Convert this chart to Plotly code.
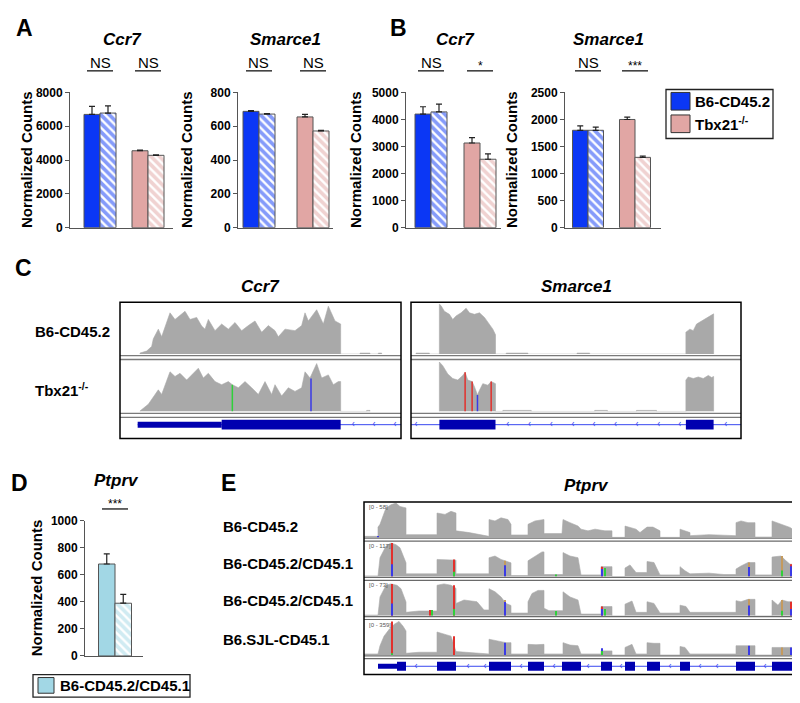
"""
Ccr7 / Smarce1 / Ptprv normalized counts with IGV-style coverage tracks.
"""

import plotly.graph_objects as go

W, H = 800, 703
FONT = "Liberation Sans, Arial, Helvetica, sans-serif"

BLUE = "#0b37f5"
PINK = "#e1a6a4"
LIGHT_BLUE = "#a2d7e5"
GREY = "#a9a9a9"
AXIS = "#555555"
GENE_NAVY = "#0000b0"
INTRON_BLUE = "#3848f0"
MM_COLOURS = {"r": "#e2302c", "b": "#3a3ae6", "g": "#2fd03a", "t": "#c49a5e"}

# ---- bar panels: values are [B6-CD45.2 group, Tbx21-/- group] ----
GROUPS = ["B6-CD45.2", "Tbx21-/-"]

A_CCR7_SOLID = [6700, 4550]
A_CCR7_SOLID_ERR = [480, 40]
A_CCR7_HATCHED = [6780, 4280]
A_CCR7_HATCHED_ERR = [420, 30]
A_CCR7_TICKS = [0, 2000, 4000, 6000, 8000]
A_CCR7_SIG = ["NS", "NS"]

A_SMARCE1_SOLID = [688, 655]
A_SMARCE1_SOLID_ERR = [5, 15]
A_SMARCE1_HATCHED = [672, 572]
A_SMARCE1_HATCHED_ERR = [3, 3]
A_SMARCE1_TICKS = [0, 200, 400, 600, 800]
A_SMARCE1_SIG = ["NS", "NS"]

B_CCR7_SOLID = [4200, 3130]
B_CCR7_SOLID_ERR = [270, 200]
B_CCR7_HATCHED = [4280, 2530]
B_CCR7_HATCHED_ERR = [290, 200]
B_CCR7_TICKS = [0, 1000, 2000, 3000, 4000, 5000]
B_CCR7_SIG = ["NS", "*"]

B_SMARCE1_SOLID = [1800, 2000]
B_SMARCE1_SOLID_ERR = [80, 45]
B_SMARCE1_HATCHED = [1800, 1300]
B_SMARCE1_HATCHED_ERR = [60, 25]
B_SMARCE1_TICKS = [0, 500, 1000, 1500, 2000, 2500]
B_SMARCE1_SIG = ["NS", "***"]

D_PTPRV_SOLID = [680]
D_PTPRV_SOLID_ERR = [75]
D_PTPRV_HATCHED = [390]
D_PTPRV_HATCHED_ERR = [65]
D_PTPRV_TICKS = [0, 200, 400, 600, 800, 1000]
D_PTPRV_SIG = ["***"]

# ---- panel C coverage (position along locus, coverage in % of track scale) ----
CCR7_B6_POS = [60, 60, 80, 95, 100, 115, 125, 140, 150, 165, 180, 195, 210, 230, 245, 255, 265, 285, 305, 325,
               345, 365, 385, 405, 425, 445, 465, 475, 495, 525, 545, 555, 565, 590, 610, 625, 645, 662, 662,
               720, 720, 750, 750, 775, 775, 785, 785]
CCR7_B6_COV = [0, 2, 6, 15, 30, 49, 34, 60, 81, 68, 76, 84, 68, 72, 55, 49, 68, 46, 59, 49,
               62, 46, 56, 65, 43, 56, 46, 34, 49, 46, 56, 81, 65, 87, 59, 94, 65, 59, 0,
               0, 2, 2, 0, 0, 2, 2, 0]
CCR7_TBX_POS = [60, 60, 85, 115, 125, 150, 165, 180, 200, 215, 235, 250, 265, 285, 305, 325, 337, 355, 375, 395,
                415, 435, 455, 465, 485, 505, 525, 545, 555, 570, 590, 605, 625, 640, 655, 662, 662,
                740, 740, 750, 750]
CCR7_TBX_COV = [0, 1, 14, 42, 33, 77, 68, 74, 61, 71, 84, 65, 74, 58, 52, 58, 52, 46, 58, 46,
                33, 58, 33, 52, 30, 46, 39, 46, 77, 65, 93, 65, 71, 52, 58, 58, 0,
                0, 2, 2, 0]
CCR7_TBX_MISMATCH = [(337, 52, "g", 0, None), (573, 64, "b", 0, None)]

SMARCE1_B6_POS = [15, 15, 55, 55, 85, 85, 90, 100, 115, 125, 135, 150, 165, 175, 190, 205, 220, 235, 245, 253, 253,
                  285, 285, 350, 350, 497, 497, 535, 535,
                  823, 823, 835, 845, 855, 870, 885, 895, 906, 906]
SMARCE1_B6_COV = [0, 2, 2, 0, 0, 98, 95, 84, 78, 68, 75, 81, 90, 81, 78, 81, 72, 59, 49, 38, 0,
                  0, 2, 2, 0, 0, 2, 2, 0,
                  0, 43, 49, 46, 59, 65, 72, 75, 79, 0]
SMARCE1_TBX_POS = [85, 85, 95, 110, 125, 140, 155, 162, 170, 183, 190, 199, 205, 215, 230, 240, 253, 253,
                   275, 275, 360, 360, 550, 550, 588, 588, 675, 675, 735, 735,
                   823, 823, 830, 845, 860, 875, 890, 900, 906, 906]
SMARCE1_TBX_COV = [0, 96, 89, 73, 64, 61, 70, 76, 61, 58, 48, 32, 41, 54, 51, 58, 54, 0,
                   0, 2, 2, 0, 0, 2, 2, 0, 0, 2, 2, 0,
                   0, 61, 67, 64, 67, 64, 70, 66, 68, 0]
SMARCE1_TBX_MISMATCH = [(162, 76, "r", 0, None), (183, 58, "r", 0, None),
                        (199, 32, "b", 0, None), (240, 58, "r", 0, None)]

CCR7_UTR = [(53, 305)]
CCR7_EXONS = [(305, 662)]
CCR7_LINE = (53, 843)
CCR7_ARROWS = [700, 762, 825]
CCR7_EXON_ARROWS = [370, 435, 498, 562]

SMARCE1_UTR = []
SMARCE1_EXONS = [(85, 253), (823, 906)]
SMARCE1_LINE = (0, 988)
SMARCE1_ARROWS = [15, 290, 355, 420, 485, 548, 612, 677, 742, 805, 942]
SMARCE1_EXON_ARROWS = [150, 218, 893]

# ---- panel E coverage ----
PTPRV_SAMPLES = ["B6-CD45.2", "B6-CD45.2/CD45.1", "B6-CD45.2/CD45.1", "B6.SJL-CD45.1"]
PTPRV_SCALES = ["[0 - 58]", "[0 - 117]", "[0 - 73]", "[0 - 359]"]

PTPRV_T1_POS = [0, 14, 14, 16, 22, 27, 32, 36, 42, 42, 60, 73, 73, 81, 87, 92, 92, 105, 125, 125,
                131, 137, 144, 147, 147, 164, 164, 171, 180, 180, 198, 199, 206, 214, 217, 224, 231, 241, 248, 248,
                261, 261, 272, 276, 283, 289, 296, 296, 316, 316, 326, 326, 345, 365, 372, 372, 377, 384, 391, 391,
                408, 408, 417, 426, 431, 431]
PTPRV_T1_COV = [3, 3, 30, 38, 86, 95, 100, 90, 86, 8, 8, 8, 71, 67, 76, 71, 19, 14, 3, 52,
                48, 57, 52, 38, 7, 7, 38, 48, 52, 11, 11, 52, 43, 33, 24, 19, 24, 19, 19, 0,
                0, 33, 24, 14, 30, 30, 19, 0, 0, 24, 14, 5, 8, 5, 5, 43, 48, 43, 43, 1,
                1, 48, 38, 29, 19, 0]
PTPRV_T2_POS = [0, 14, 16, 22, 27, 32, 36, 40, 42, 42, 73, 73, 81, 87, 92, 92, 125, 125, 131, 137,
                141, 147, 147, 164, 164, 171, 178, 180, 180, 199, 199, 206, 214, 217, 237, 237, 248, 248, 261, 261,
                266, 272, 283, 283, 290, 296, 316, 316, 321, 326, 345, 360, 372, 372, 377, 384, 391, 391, 408, 408,
                417, 422, 426, 431, 431]
PTPRV_T2_COV = [2, 2, 55, 89, 98, 93, 84, 55, 40, 8, 8, 50, 50, 48, 48, 8, 8, 55, 60, 50,
                46, 40, 3, 3, 46, 60, 72, 72, 6, 6, 70, 60, 55, 5, 5, 29, 29, 0, 0, 25,
                34, 12, 12, 44, 41, 5, 5, 29, 17, 8, 10, 6, 6, 22, 31, 41, 41, 5, 5, 57,
                60, 46, 36, 36, 0]
PTPRV_T3_POS = [0, 14, 16, 22, 27, 33, 37, 40, 42, 42, 55, 73, 73, 80, 87, 92, 92, 100, 113, 120,
                125, 125, 131, 137, 142, 147, 147, 164, 164, 168, 174, 180, 180, 185, 199, 199, 206, 214, 217, 237,
                237, 248, 248, 261, 261, 268, 272, 283, 283, 290, 296, 316, 316, 322, 326, 372, 372, 377, 384, 391,
                391, 408, 408, 414, 418, 424, 431, 431]
PTPRV_T3_COV = [2, 2, 55, 89, 93, 89, 79, 55, 40, 10, 14, 14, 89, 93, 89, 80, 36, 46, 41, 17,
                17, 79, 70, 55, 36, 30, 8, 8, 41, 65, 74, 74, 22, 15, 15, 70, 55, 46, 5, 5,
                27, 27, 0, 0, 34, 43, 10, 10, 41, 36, 8, 8, 31, 27, 10, 10, 44, 41, 48, 48,
                0, 0, 46, 31, 46, 41, 41, 0]
PTPRV_T4_POS = [0, 14, 16, 20, 25, 30, 35, 39, 42, 42, 55, 73, 73, 81, 87, 92, 92, 125, 125, 135,
                142, 147, 147, 164, 164, 172, 180, 180, 199, 199, 206, 214, 217, 237, 237, 248, 248, 261, 261, 268,
                272, 283, 283, 290, 296, 296, 316, 316, 321, 326, 372, 372, 391, 391, 408, 408, 431, 431]
PTPRV_T4_COV = [3, 3, 27, 55, 74, 89, 98, 84, 70, 5, 8, 8, 67, 60, 55, 10, 10, 3, 46, 41,
                36, 36, 3, 3, 31, 30, 31, 3, 3, 36, 29, 27, 3, 3, 12, 12, 0, 0, 22, 31,
                3, 3, 36, 34, 34, 0, 0, 25, 22, 3, 3, 27, 27, 0, 0, 22, 22, 0]

# (position, height, colour, lower height, lower colour)
PTPRV_T1_MISMATCH = [(14, 4, "b", 0, None)]
PTPRV_T2_MISMATCH = [(28, 98, "r", 36, "b"), (90, 50, "r", 14, "g"), (141, 46, "t", 33, "b"),
                     (192, 6, "g", 0, None), (238, 29, "r", 22, "b"), (241, 25, "g", 0, None),
                     (385, 41, "t", 28, "b"), (418, 60, "t", 18, "g"), (427, 36, "r", 30, "b")]
PTPRV_T3_MISMATCH = [(28, 93, "r", 36, "b"), (66, 17, "r", 0, None), (68, 17, "g", 0, None),
                     (90, 89, "r", 20, "g"), (141, 46, "t", 40, "b"), (192, 14, "g", 0, None),
                     (238, 27, "r", 20, "b"), (241, 20, "g", 0, None), (385, 48, "t", 30, "b"),
                     (418, 46, "t", 15, "g"), (427, 41, "r", 20, "b")]
PTPRV_T4_MISMATCH = [(28, 98, "r", 5, "g"), (90, 55, "r", 0, None), (141, 36, "b", 0, None),
                     (238, 20, "b", 12, "g"), (385, 27, "b", 0, None), (418, 22, "t", 0, None),
                     (427, 22, "b", 0, None)]

PTPRV_UTR = [(14, 33)]
PTPRV_EXONS = [(33, 42), (73, 92), (125, 147), (164, 180), (198, 217), (237, 248),
               (261, 271), (283, 296), (316, 326), (372, 391), (408, 431)]
PTPRV_LINE = (14, 439)
PTPRV_ARROWS = [52, 104, 121, 157, 190, 224, 257, 306, 336, 353, 401]
PTPRV_EXON_ARROWS = [144, 427]


fig = go.Figure()
axes = {}
shapes = []
annotations = []
n_axes = [0]


def fx(x):
    return x / W


def fy(y):
    return 1 - y / H


def add_axes(left, right, top, bottom, xrange, yrange):
    n_axes[0] += 1
    s = "" if n_axes[0] == 1 else str(n_axes[0])
    axes["xaxis" + s] = dict(domain=[fx(left), fx(right)], range=xrange, anchor="y" + s,
                             visible=False, fixedrange=True)
    axes["yaxis" + s] = dict(domain=[fy(bottom), fy(top)], range=yrange, anchor="x" + s,
                             visible=False, fixedrange=True)
    return "x" + s, "y" + s, s


def text(x, y, label, size=15, bold=True, italic=False, anchor="center", angle=0, colour="black"):
    annotations.append(dict(
        x=fx(x), y=fy(y), xref="paper", yref="paper", text=label, showarrow=False,
        xanchor=anchor, yanchor="middle", textangle=angle,
        font=dict(family=FONT, size=size, color=colour, weight="bold" if bold else "normal",
                  style="italic" if italic else "normal"),
    ))


def hline(x0, x1, y, colour="black", width=1.2):
    shapes.append(dict(type="line", xref="paper", yref="paper", x0=fx(x0), x1=fx(x1),
                       y0=fy(y), y1=fy(y), line=dict(color=colour, width=width)))


def box(x0, x1, y0, y1, colour="black", width=1.5, fill=None):
    shapes.append(dict(type="rect", xref="paper", yref="paper", x0=fx(x0), x1=fx(x1),
                       y0=fy(y1), y1=fy(y0), line=dict(color=colour, width=width),
                       fillcolor=fill if fill else "rgba(0,0,0,0)"))


def bar_panel(geo, solid, solid_err, hatched, hatched_err, colours, ticks, title, sig):
    centres = geo["centres"]
    unit = centres[1] - centres[0] if len(centres) > 1 else 48
    c0 = centres[0]
    xr = [(geo["left"] - c0) / unit, (geo["right"] - c0) / unit]
    w = geo["bar"] / unit
    xa, ya, s = add_axes(geo["left"], geo["right"], geo["top"], geo["bottom"], xr, [0, ticks[-1]])
    axes["xaxis" + s].update(visible=True, showline=True, linecolor=AXIS, linewidth=1,
                             showticklabels=False, ticks="", showgrid=False, zeroline=False)
    axes["yaxis" + s].update(visible=True, showline=True, linecolor=AXIS, linewidth=1,
                             tickvals=ticks, ticks="outside", ticklen=4, tickcolor=AXIS,
                             showgrid=False, zeroline=False,
                             tickfont=dict(family=FONT, size=12, color="black", weight="bold"))
    xs = list(range(len(solid)))
    err_style = dict(type="data", symmetric=False, color="#222222", thickness=1.2, width=3)
    fig.add_trace(go.Bar(
        x=xs, y=solid, width=w, offset=-w, xaxis=xa, yaxis=ya,
        marker=dict(color=colours, line=dict(color=AXIS, width=1)),
        error_y=dict(array=solid_err, arrayminus=[0] * len(xs), **err_style),
    ))
    fig.add_trace(go.Bar(
        x=xs, y=hatched, width=w, offset=0, xaxis=xa, yaxis=ya,
        marker=dict(color="white", line=dict(color=AXIS, width=1),
                    pattern=dict(shape="\\", fgcolor=colours, bgcolor="white", size=6, solidity=0.62)),
        error_y=dict(array=hatched_err, arrayminus=[0] * len(xs), **err_style),
    ))
    # title, y label, significance marks
    text(geo["title_x"], geo["title_y"], title, size=17, italic=True)
    text(geo["ylabel_x"], (geo["top"] + geo["bottom"]) / 2, "Normalized Counts", size=15, angle=-90)
    for i, mark in enumerate(sig):
        shapes.append(dict(type="line", xref=xa, yref="paper", x0=i - 13 / unit, x1=i + 13 / unit,
                           y0=fy(geo["sig_y"] + 9), y1=fy(geo["sig_y"] + 9),
                           line=dict(color="black", width=1.2)))
        shift = 4 if "*" in mark else 0
        annotations.append(dict(x=i, y=fy(geo["sig_y"] + shift), xref=xa, yref="paper", text=mark,
                                showarrow=False, xanchor="center", yanchor="middle",
                                font=dict(family=FONT, size=15 if "*" not in mark else 12, color="black")))


def coverage(xa, ya, pos, cov):
    fig.add_trace(go.Scatter(x=pos, y=cov, xaxis=xa, yaxis=ya, mode="lines", fill="tozeroy",
                             line=dict(color=GREY, width=0.6), fillcolor=GREY, hoverinfo="skip"))


def mismatches(xa, ya, items, width):
    layers = [[(p, h, c) for p, h, c, _, _ in items],
              [(p, lh, lc) for p, _, _, lh, lc in items if lc]]
    for layer in layers:
        for key in MM_COLOURS:
            xs, ys = [], []
            for p, h, c in layer:
                if c == key:
                    xs += [p, p, None]
                    ys += [0, h, None]
            if xs:
                fig.add_trace(go.Scatter(x=xs, y=ys, xaxis=xa, yaxis=ya, mode="lines",
                                         line=dict(color=MM_COLOURS[key], width=width), hoverinfo="skip"))


def gene(xa, ya, line, utr, exons, arrows, exon_arrows, thick, thin):
    fig.add_trace(go.Scatter(x=list(line), y=[0, 0], xaxis=xa, yaxis=ya, mode="lines",
                             line=dict(color=INTRON_BLUE, width=1), hoverinfo="skip"))
    for a, b in utr:
        shapes.append(dict(type="rect", xref=xa, yref=ya, x0=a, x1=b, y0=-thin, y1=thin,
                           fillcolor=GENE_NAVY, line=dict(width=0)))
    for a, b in exons:
        shapes.append(dict(type="rect", xref=xa, yref=ya, x0=a, x1=b, y0=-thick, y1=thick,
                           fillcolor=GENE_NAVY, line=dict(width=0)))
    fig.add_trace(go.Scatter(x=arrows, y=[0] * len(arrows), xaxis=xa, yaxis=ya, mode="text",
                             text=["‹"] * len(arrows), textfont=dict(color=INTRON_BLUE, size=10),
                             hoverinfo="skip"))
    fig.add_trace(go.Scatter(x=exon_arrows, y=[0] * len(exon_arrows), xaxis=xa, yaxis=ya, mode="text",
                             text=["‹"] * len(exon_arrows), textfont=dict(color="white", size=10),
                             hoverinfo="skip"))


# ---------------- panels A and B ----------------
A_B_COLOURS = [BLUE, PINK]
bar_panel(dict(left=62, right=165, top=79, bottom=217, centres=[92, 140], bar=16,
               title_x=115, title_y=25, ylabel_x=18, sig_y=48),
          A_CCR7_SOLID, A_CCR7_SOLID_ERR, A_CCR7_HATCHED, A_CCR7_HATCHED_ERR,
          A_B_COLOURS, A_CCR7_TICKS, "Ccr7", A_CCR7_SIG)
bar_panel(dict(left=230, right=325, top=79, bottom=217, centres=[251, 305], bar=16,
               title_x=277, title_y=25, ylabel_x=178, sig_y=48),
          A_SMARCE1_SOLID, A_SMARCE1_SOLID_ERR, A_SMARCE1_HATCHED, A_SMARCE1_HATCHED_ERR,
          A_B_COLOURS, A_SMARCE1_TICKS, "Smarce1", A_SMARCE1_SIG)
bar_panel(dict(left=398, right=493, top=79, bottom=217, centres=[423, 472], bar=16,
               title_x=447, title_y=25, ylabel_x=347, sig_y=48),
          B_CCR7_SOLID, B_CCR7_SOLID_ERR, B_CCR7_HATCHED, B_CCR7_HATCHED_ERR,
          A_B_COLOURS, B_CCR7_TICKS, "Ccr7", B_CCR7_SIG)
bar_panel(dict(left=557, right=653, top=79, bottom=217, centres=[580, 627], bar=15.5,
               title_x=600, title_y=25, ylabel_x=503, sig_y=48),
          B_SMARCE1_SOLID, B_SMARCE1_SOLID_ERR, B_SMARCE1_HATCHED, B_SMARCE1_HATCHED_ERR,
          A_B_COLOURS, B_SMARCE1_TICKS, "Smarce1", B_SMARCE1_SIG)
bar_panel(dict(left=77, right=135, top=516, bottom=654, centres=[107], bar=16.5,
               title_x=108, title_y=475, ylabel_x=28, sig_y=495),
          D_PTPRV_SOLID, D_PTPRV_SOLID_ERR, D_PTPRV_HATCHED, D_PTPRV_HATCHED_ERR,
          [LIGHT_BLUE], D_PTPRV_TICKS, "Ptprv", D_PTPRV_SIG)

# legends
box(658, 765, 76, 126, colour="#222222", width=1.3)
box(663, 682, 79, 97, colour="#333333", width=1, fill=BLUE)
box(663, 682, 102, 120, colour="#333333", width=1, fill=PINK)
text(685, 88, GROUPS[0], anchor="left")
text(685, 111, "Tbx21<sup>-/-</sup>", anchor="left")

box(25, 182, 673, 696, colour="#222222", width=1.3)
box(30, 46, 676, 692, colour="#333333", width=1, fill=LIGHT_BLUE)
text(50, 684, "B6-CD45.2/CD45.1", anchor="left")

# panel letters
text(16, 13, "A", size=23)
text(390, 13, "B", size=23)
text(15, 258, "C", size=23)
text(11, 477, "D", size=23)
text(220, 478, "E", size=23)

# ---------------- panel C ----------------
C_TRACK_ROWS = [(294, 346), (352, 404.5)]
for left, right, span, title, tracks, gene_parts in [
    (112, 393, 843, "Ccr7",
     [(CCR7_B6_POS, CCR7_B6_COV, []), (CCR7_TBX_POS, CCR7_TBX_COV, CCR7_TBX_MISMATCH)],
     (CCR7_LINE, CCR7_UTR, CCR7_EXONS, CCR7_ARROWS, CCR7_EXON_ARROWS)),
    (403, 733, 988, "Smarce1",
     [(SMARCE1_B6_POS, SMARCE1_B6_COV, []), (SMARCE1_TBX_POS, SMARCE1_TBX_COV, SMARCE1_TBX_MISMATCH)],
     (SMARCE1_LINE, SMARCE1_UTR, SMARCE1_EXONS, SMARCE1_ARROWS, SMARCE1_EXON_ARROWS)),
]:
    for (top, bottom), (pos, cov, mm) in zip(C_TRACK_ROWS, tracks):
        xa, ya, _ = add_axes(left, right, top, bottom, [0, span], [0, 100])
        coverage(xa, ya, pos, cov)
        mismatches(xa, ya, mm, 1.5)
    xa, ya, _ = add_axes(left, right, 411, 425, [0, span], [-1, 1])
    gene(xa, ya, *gene_parts, thick=0.71, thin=0.43)
    for y in (347.5, 351.5, 406.5, 410.5):
        hline(left, right, y, colour="#7a7a7a", width=1.3)
    box(left, right, 293, 432)
    text((left + right) / 2, 277, title, size=17, italic=True)

text(25, 323, "B6-CD45.2", anchor="left")
text(25, 382, "Tbx21<sup>-/-</sup>", anchor="left")

# ---------------- panel E ----------------
E_LEFT, E_RIGHT, E_SPAN = 356, 795, 439
E_TRACKS = [(PTPRV_T1_POS, PTPRV_T1_COV, PTPRV_T1_MISMATCH),
            (PTPRV_T2_POS, PTPRV_T2_COV, PTPRV_T2_MISMATCH),
            (PTPRV_T3_POS, PTPRV_T3_COV, PTPRV_T3_MISMATCH),
            (PTPRV_T4_POS, PTPRV_T4_COV, PTPRV_T4_MISMATCH)]
E_BASELINES = [533, 573, 613, 653]
E_LABEL_Y = [522, 560, 597, 637]
for (pos, cov, mm), base, scale, sample, ly in zip(E_TRACKS, E_BASELINES, PTPRV_SCALES,
                                                   PTPRV_SAMPLES, E_LABEL_Y):
    xa, ya, _ = add_axes(E_LEFT, E_RIGHT, base - 35, base, [0, E_SPAN], [0, 100])
    coverage(xa, ya, pos, cov)
    mismatches(xa, ya, mm, 2)
    text(E_LEFT + 3, base - 31, scale, size=6, bold=False, anchor="left", colour="#555555")
    hline(E_LEFT, E_RIGHT, base + 0.8, colour="#6a6a6a", width=1.2)
    hline(E_LEFT, E_RIGHT, base + 3.8, colour="#6a6a6a", width=1.2)
    text(213, ly, sample, anchor="left")

xa, ya, _ = add_axes(E_LEFT, E_RIGHT, 658, 671, [0, E_SPAN], [-1, 1])
gene(xa, ya, PTPRV_LINE, PTPRV_UTR, PTPRV_EXONS, PTPRV_ARROWS, PTPRV_EXON_ARROWS, thick=0.69, thin=0.38)
box(E_LEFT, E_RIGHT, 497, 673)
text(578, 480, "Ptprv", size=17, italic=True)

fig.update_layout(
    width=W, height=H, margin=dict(l=0, r=0, t=0, b=0),
    paper_bgcolor="white", plot_bgcolor="white",
    showlegend=False, barmode="overlay", hovermode=False,
    shapes=shapes, annotations=annotations, **axes,
)

fig.write_html("out.html")
